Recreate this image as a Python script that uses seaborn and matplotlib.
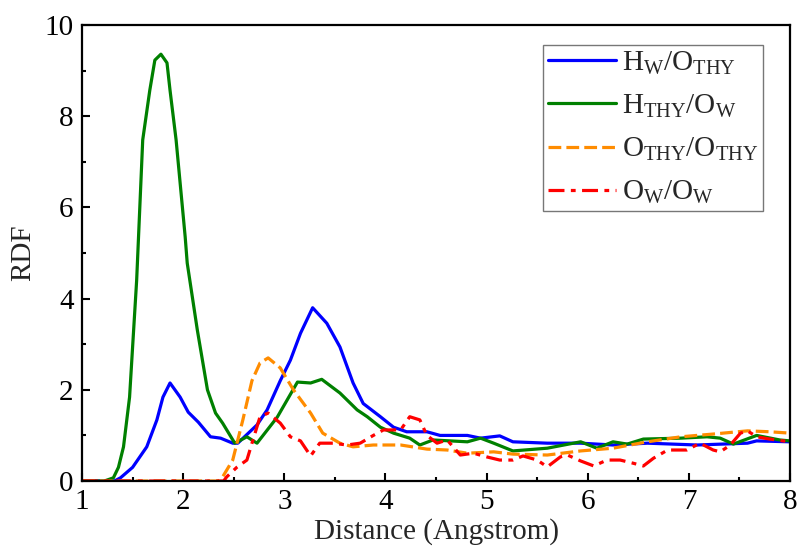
import numpy as np
import pandas as pd
import matplotlib
matplotlib.use("Agg")
import matplotlib.pyplot as plt
from matplotlib.ticker import MultipleLocator
import seaborn as sns

# ---- data ----
hw_x = [1.0, 1.32, 1.38, 1.5, 1.64, 1.74, 1.8, 1.87, 1.97, 2.05, 2.15, 2.27, 2.37, 2.49, 2.54,
        2.73, 2.83, 2.96, 3.06, 3.16, 3.28, 3.42, 3.55, 3.68, 3.78, 3.95, 4.08, 4.21, 4.41, 4.54,
        4.81, 4.94, 5.13, 5.26, 5.6, 5.93, 6.25, 6.59, 7.08, 7.58, 7.67, 8.0]
hw_y = [0, 0, 0.07, 0.3, 0.75, 1.34, 1.84, 2.15, 1.84, 1.51, 1.29, 0.97, 0.94, 0.83, 0.83,
        1.23, 1.56, 2.2, 2.65, 3.24, 3.8, 3.46, 2.94, 2.15, 1.7, 1.41, 1.18, 1.08, 1.08, 1.0,
        1.0, 0.94, 0.99, 0.86, 0.83, 0.83, 0.79, 0.83, 0.79, 0.83, 0.88, 0.86]

ht_x = [1.0, 1.22, 1.31, 1.36, 1.41, 1.47, 1.5, 1.54, 1.6, 1.67, 1.72, 1.78, 1.84, 1.87, 1.93,
        2.02, 2.04, 2.14, 2.24, 2.32, 2.39, 2.51, 2.63, 2.73, 2.93, 3.13, 3.26, 3.37, 3.55, 3.72,
        3.82, 3.95, 4.08, 4.24, 4.34, 4.47, 4.81, 4.94, 5.07, 5.26, 5.6, 5.93, 6.09, 6.25, 6.39,
        6.55, 6.92, 7.18, 7.31, 7.44, 7.67, 7.9, 8.0]
ht_y = [0, 0, 0.07, 0.3, 0.75, 1.84, 2.94, 4.4, 7.48, 8.57, 9.23, 9.36, 9.17, 8.57, 7.48,
        5.35, 4.78, 3.31, 2.0, 1.49, 1.27, 0.83, 0.97, 0.83, 1.4, 2.17, 2.15, 2.23, 1.93, 1.56,
        1.41, 1.18, 1.05, 0.94, 0.79, 0.9, 0.86, 0.94, 0.83, 0.66, 0.72, 0.86, 0.72, 0.86, 0.81,
        0.92, 0.94, 0.97, 0.94, 0.81, 1.0, 0.9, 0.88]

oo_x = [1.0, 2.35, 2.39, 2.49, 2.59, 2.68, 2.76, 2.84, 2.96, 3.09, 3.26, 3.38, 3.55, 3.68, 3.88,
        4.15, 4.41, 4.61, 4.81, 5.07, 5.26, 5.6, 5.93, 6.25, 6.59, 6.92, 7.24, 7.58, 7.8, 8.0]
oo_y = [0, 0, 0.09, 0.46, 1.34, 2.2, 2.59, 2.7, 2.48, 2.0, 1.49, 1.05, 0.83, 0.75, 0.79,
        0.79, 0.7, 0.68, 0.61, 0.64, 0.59, 0.57, 0.66, 0.72, 0.86, 0.97, 1.03, 1.1, 1.08, 1.05]

ow_x = [1.0, 2.4, 2.43, 2.53, 2.63, 2.69, 2.76, 2.84, 2.96, 3.06, 3.16, 3.26, 3.35, 3.48, 3.62,
        3.75, 3.88, 3.98, 4.15, 4.24, 4.34, 4.41, 4.51, 4.61, 4.74, 4.87, 5.0, 5.13, 5.26, 5.36,
        5.5, 5.6, 5.73, 5.8, 5.93, 6.06, 6.19, 6.32, 6.45, 6.55, 6.65, 6.79, 6.98, 7.11, 7.24,
        7.31, 7.41, 7.51, 7.58, 7.67, 7.8, 8.0]
ow_y = [0, 0, 0.09, 0.3, 0.46, 0.9, 1.41, 1.49, 1.27, 0.97, 0.88, 0.55, 0.83, 0.83, 0.79,
        0.83, 1.0, 1.12, 1.12, 1.41, 1.34, 1.0, 0.83, 0.9, 0.57, 0.61, 0.53, 0.46, 0.46, 0.55,
        0.46, 0.31, 0.53, 0.57, 0.44, 0.33, 0.46, 0.46, 0.39, 0.33, 0.5, 0.68, 0.68, 0.83, 0.68,
        0.64, 0.79, 1.05, 1.1, 0.97, 0.92, 0.86]

labels = [r"$\mathrm{H_W/O_{THY}}$", r"$\mathrm{H_{THY}/O_W}$",
          r"$\mathrm{O_{THY}/O_{THY}}$", r"$\mathrm{O_W/O_W}$"]
x_ticks = [1, 2, 3, 4, 5, 6, 7, 8]
y_ticks = [0, 2, 4, 6, 8, 10]

# ---- style ----
sns.set_theme(style="ticks")
plt.rcParams["font.family"] = ["Liberation Serif", "DejaVu Serif"]
plt.rcParams["mathtext.fontset"] = "custom"
plt.rcParams["mathtext.rm"] = "Liberation Serif"
plt.rcParams["mathtext.it"] = "Liberation Serif:italic"
plt.rcParams["mathtext.bf"] = "Liberation Serif:bold"

fig = plt.figure(figsize=(7.98, 5.51), dpi=100)
ax = fig.add_axes([0.1028, 0.127, 0.8872, 0.8276])

series = [
    (hw_x, hw_y, labels[0], "#0000FF", None),
    (ht_x, ht_y, labels[1], "#008000", None),
    (oo_x, oo_y, labels[2], "#FF8C00", (4, 1.6)),
    (ow_x, ow_y, labels[3], "#FF0000", (5, 2, 1.5, 2)),
]
for xs, ys, lab, col, dash in series:
    df = pd.DataFrame({"x": xs, "y": ys})
    line_ax = sns.lineplot(data=df, x="x", y="y", ax=ax, color=col, linewidth=2.3,
                           label=lab, estimator=None, sort=False)
    line_ax.lines[-1].set_solid_joinstyle("round")
    line_ax.lines[-1].set_dash_joinstyle("round")
    if dash is not None:
        line_ax.lines[-1].set_dashes(dash)

ax.set_xlim(1, 8)
ax.set_ylim(0, 10)
ax.set_xticks(x_ticks)
ax.set_yticks(y_ticks)
ax.xaxis.set_minor_locator(MultipleLocator(0.5))
ax.yaxis.set_minor_locator(MultipleLocator(1))
ax.tick_params(which="both", direction="in", top=False, right=False, width=1.5,
               labelsize=21, colors="black", pad=6)
ax.tick_params(which="major", length=6)
ax.tick_params(which="minor", length=3)
for s in ax.spines.values():
    s.set_linewidth(1.6)
    s.set_color("black")
ax.set_xlabel("Distance (Angstrom)", fontsize=21, labelpad=2)
ax.set_ylabel("RDF", fontsize=21, labelpad=6)

leg = ax.legend(loc="upper right", bbox_to_anchor=(0.962, 0.956), borderaxespad=0,
                fontsize=21, frameon=True, fancybox=False, edgecolor="#555555",
                handlelength=2.35, handletextpad=0.2, labelspacing=0.55,
                borderpad=0.15)
leg.get_frame().set_linewidth(1.0)

fig.savefig("out.png", dpi=100)
